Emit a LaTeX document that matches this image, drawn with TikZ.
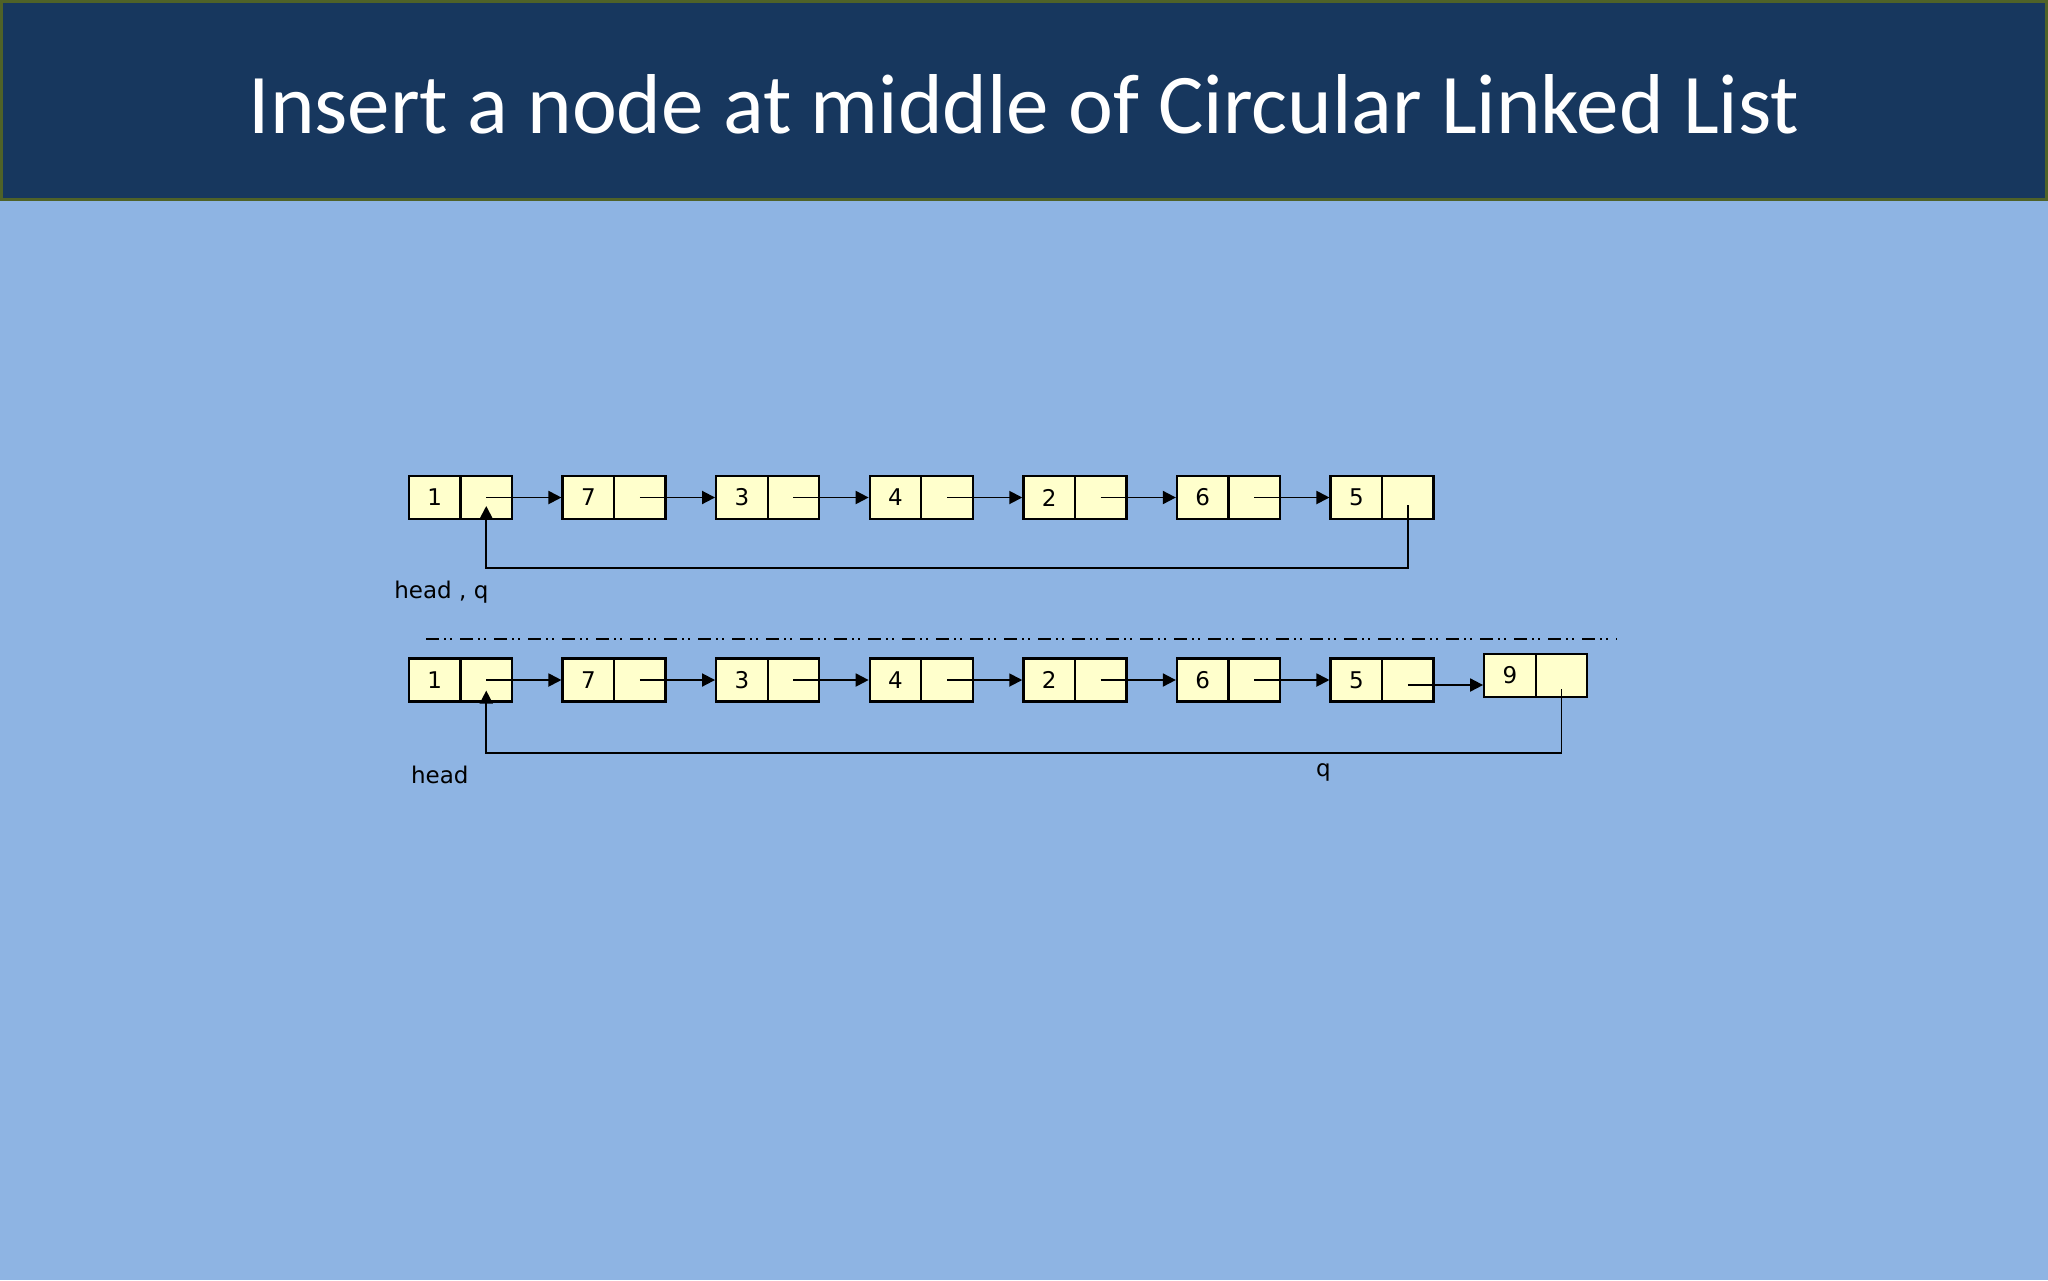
\documentclass[tikz,border=0pt]{standalone}
\usepackage{fontspec}
\setmainfont{DejaVu Sans}
\newfontfamily\titlefont{Carlito}
\usetikzlibrary{arrows.meta}
\definecolor{bgblue}{HTML}{8EB4E3}
\definecolor{barblue}{HTML}{17375E}
\definecolor{barline}{HTML}{4F6228}
\definecolor{cellfill}{HTML}{FFFFCC}
\begin{document}
\begin{tikzpicture}[x=0.5pt,y=-0.5pt,
  cell/.style={draw=black, fill=cellfill, line width=1.15pt, minimum width=25.75pt, minimum height=21.5pt, inner sep=0pt, font=\fontsize{11.5}{13}\selectfont},
  link/.style={line width=0.95pt, -{Triangle[length=6.5pt,width=6.5pt]}},
  sep/.style={line width=1.1pt, dash pattern=on 6.5pt off 2.5pt on 1pt off 2pt on 1pt off 4pt},
  lbl/.style={anchor=base west, inner sep=0pt, font=\fontsize{11.5}{13}\selectfont}]
\useasboundingbox (0,0) rectangle (2048,1280);
\fill[bgblue] (0,0) rectangle (2048,1280);
\path[fill=barblue, draw=barline, line width=1.5pt] (1.5,1.5) rectangle (2046.5,199);
\node[text=white, font=\titlefont\fontsize{42.5}{50}\selectfont, anchor=base, inner sep=0pt] (title) at (1024,133) {Insert a node at middle of Circular Linked List};
% row 1
\foreach \v [count=\i] in {1,7,3,4,2,6,5} {
  \node[cell] (a\i) at ({434.75+153.6*(\i-1)},497.5) {\v};
  \node[cell] (ap\i) at ({486.25+153.6*(\i-1)},497.5) {};
}
\foreach \i [evaluate=\i as \j using int(\i+1)] in {1,...,6}
  \draw[link] (ap\i.center) -- (a\j.west);
\coordinate (r1) at (0,568.3);
\draw[link] ([yshift=-3.75pt]ap7.center) -- (ap7.center |- r1) -- (ap1.center |- r1) -- ([yshift=-4.25pt]ap1.center);
\node[lbl] (l1) at (394,598) {head , q};
% separator
\coordinate (s1) at (426,639.3);
\coordinate (s2) at (1616.7,639.3);
\draw[sep] (s1) -- (s2);
% row 2
\foreach \v [count=\i] in {1,7,3,4,2,6,5} {
  \node[cell] (b\i) at ({434.75+153.6*(\i-1)},680) {\v};
  \node[cell] (bp\i) at ({486.25+153.6*(\i-1)},680) {};
}
\node[cell] (b8) at (1510,675.2) {9};
\node[cell] (bp8) at (1561.5,675.2) {};
\foreach \i [evaluate=\i as \j using int(\i+1)] in {1,...,6}
  \draw[link] (bp\i.center) -- (b\j.west);
\draw[link] ([yshift=-2.5pt]bp7.center) -- ([yshift=-2.5pt]bp7.center -| b8.west);
\coordinate (r2) at (0,753.3);
\draw[link] ([yshift=-7pt]bp8.center) -- (bp8.center |- r2) -- (bp1.center |- r2) -- ([yshift=-5.3pt]bp1.center);
\node[lbl] (l2) at (410.7,783) {head};
\node[lbl] (l3) at (1315.7,776.7) {q};
\end{tikzpicture}
\end{document}
